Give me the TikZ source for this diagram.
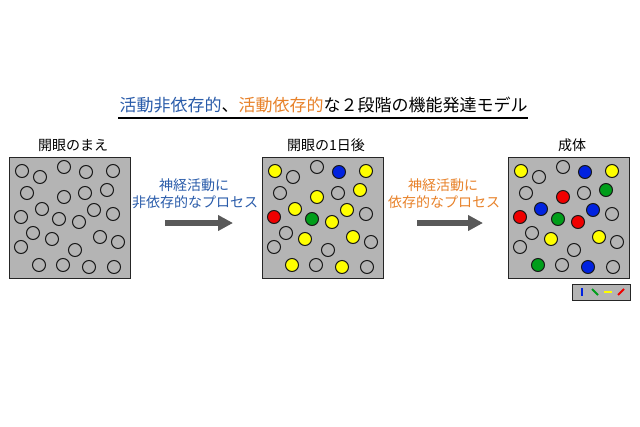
\documentclass[tikz,border=0pt]{standalone}
\usepackage{fontspec}
\usetikzlibrary{arrows.meta}
\newfontfamily\jp{Noto Sans CJK JP}
\definecolor{tblue}{HTML}{2A5CAA}
\definecolor{torange}{HTML}{E8822A}
\definecolor{panel}{HTML}{B4B4B4}
\definecolor{arrowgray}{HTML}{595959}
\definecolor{cY}{HTML}{FFFF00}
\definecolor{cB}{HTML}{0022E0}
\definecolor{cR}{HTML}{F00000}
\definecolor{cG}{HTML}{009E1A}
\begin{document}
\begin{tikzpicture}[x=1pt,y=-1pt,
  panelbox/.style={draw=black!85,line width=1.3pt,fill=panel,inner sep=0pt},
  cell/.style={circle,draw=black!90,line width=1pt,minimum size=13pt,inner sep=0pt},
  lab/.style={font=\jp\fontsize{14}{16}\selectfont,inner sep=0pt},
  ttl/.style={font=\jp\fontsize{17}{20}\selectfont,inner sep=0pt},
  bigarrow/.style={draw=arrowgray,line width=6.5pt,-{Triangle[length=15pt,width=15pt]}},
  legline/.style={line width=1.8pt}]
\useasboundingbox[fill=white] (0,0) rectangle (640,426);

% title
\node[ttl] (title) at (323.5,105) {\textcolor{tblue}{活動非依存的}、\textcolor{torange}{活動依存的}な２段階の機能発達モデル};
\coordinate (ulA) at (118,118);
\coordinate (ulB) at (528,118);
\draw[line width=1.5pt] (ulA) -- (ulB);

% panels
\node[panelbox,anchor=north west,minimum width=121pt,minimum height=121pt] (p1) at (9,157) {};
\node[panelbox,anchor=north west,minimum width=121pt,minimum height=121pt] (p2) at (262,157) {};
\node[panelbox,anchor=north west,minimum width=121pt,minimum height=121pt] (p3) at (508,157) {};

% labels
\node[lab] (l1) at (73,145) {開眼のまえ};
\node[lab] (l2) at (326,145) {開眼の1日後};
\node[lab] (l3) at (572,145) {成体};

% cells panel 1
\foreach \dx/\dy/\c [count=\i] in {
 13/14/none, 31/20/none, 55/10/none, 77/15/none, 104/14/none,
 18/36/none, 55/40/none, 76/36/none, 98/33/none,
 33/52/none, 12/60/none, 50/62/none, 70/65/none, 85/53/none, 104/57/none,
 24/76/none, 43/82/none, 91/80/none, 109/85/none,
 12/90/none, 66/93/none,
 30/108/none, 54/108/none, 80/110/none, 105/110/none}
 \node[cell,fill=\c] (a\i) at ([shift={(\dx,\dy)}]p1.north west) {};

% cells panel 2
\foreach \dx/\dy/\c [count=\i] in {
 13/14/cY, 31/20/none, 55/10/none, 77/15/cB, 104/14/cY,
 18/36/none, 55/40/cY, 76/36/none, 98/33/cY,
 33/52/cY, 12/60/cR, 50/62/cG, 70/65/cY, 85/53/cY, 104/57/none,
 24/76/none, 43/82/cY, 91/80/cY, 109/85/none,
 12/90/none, 66/93/none,
 30/108/cY, 54/108/none, 80/110/cY, 105/110/none}
 \node[cell,fill=\c] (b\i) at ([shift={(\dx,\dy)}]p2.north west) {};

% cells panel 3
\foreach \dx/\dy/\c [count=\i] in {
 13/14/cY, 31/20/none, 55/10/none, 77/15/cB, 104/14/cY,
 18/36/none, 55/40/cR, 76/36/none, 98/33/cG,
 33/52/cB, 12/60/cR, 50/62/cG, 70/65/cR, 85/53/cB, 104/57/none,
 24/76/none, 43/82/cY, 91/80/cY, 109/85/none,
 12/90/none, 66/93/none,
 30/108/cG, 54/108/none, 80/110/cB, 105/110/none}
 \node[cell,fill=\c] (c\i) at ([shift={(\dx,\dy)}]p3.north west) {};

% arrow 1
\node[lab,text=tblue] (t1a) at (194,185) {神経活動に};
\node[lab,text=tblue] (t1b) at (195,202) {非依存的なプロセス};
\coordinate (s1) at (165,223);
\coordinate (e1) at (233,223);
\draw[bigarrow] (s1) -- (e1);

% arrow 2
\node[lab,text=torange] (t2a) at (443,185) {神経活動に};
\node[lab,text=torange] (t2b) at (444,202) {依存的なプロセス};
\coordinate (s2) at (417,223);
\coordinate (e2) at (483,223);
\draw[bigarrow] (s2) -- (e2);

% legend
\node[panelbox,line width=1pt,anchor=north west,minimum width=58pt,minimum height=16pt] (leg) at (572,284) {};
\draw[legline,cB] ([shift={(10,4)}]leg.north west) -- ([shift={(10,12)}]leg.north west);
\draw[legline,cG] ([shift={(20,5)}]leg.north west) -- ([shift={(26,11)}]leg.north west);
\draw[legline,cY] ([shift={(32,8)}]leg.north west) -- ([shift={(40,8)}]leg.north west);
\draw[legline,cR] ([shift={(46,11)}]leg.north west) -- ([shift={(52,5)}]leg.north west);
\end{tikzpicture}
\end{document}
